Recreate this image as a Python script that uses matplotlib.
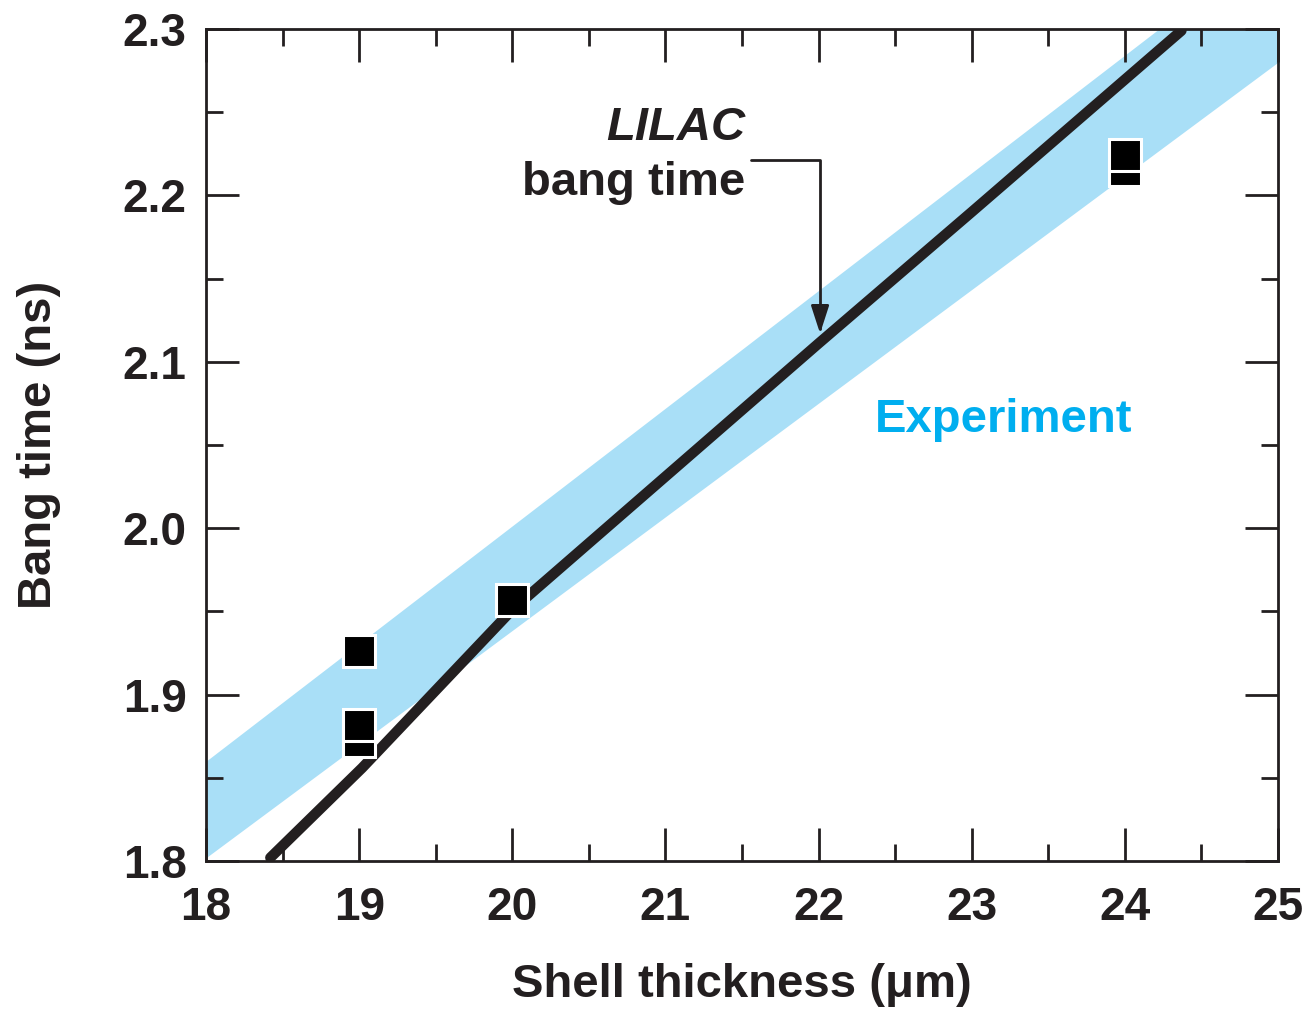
import numpy as np
import matplotlib
matplotlib.use('Agg')
import matplotlib.pyplot as plt
from matplotlib.ticker import MultipleLocator

plt.rcParams['font.family'] = ['Liberation Sans', 'DejaVu Sans']
plt.rcParams['font.weight'] = 'bold'

# measured bang times (ns) vs shell thickness (um)
thick = [19, 19, 19, 20, 24, 24]
bang = [1.872, 1.882, 1.926, 1.957, 2.215, 2.224]

# LILAC simulated bang time curve
sim_x = [18.42, 19.02, 20.0, 21.0, 22.0, 23.0, 24.37]
sim_y = [1.802, 1.856, 1.951, 2.031, 2.111, 2.190, 2.299]

# experimental band (lower / upper edges)
band_x = [18.0, 25.0]
band_lo = [1.802, 2.280]
band_hi = [1.860, 2.355]

fig = plt.figure(figsize=(13.08, 10.10), dpi=100)
ax = fig.add_axes([0.1575, 0.1475, 0.8195, 0.8238])

ax.fill_between(band_x, band_lo, band_hi, color='#a9dff7', lw=0, zorder=1)
ax.plot(sim_x, sim_y, color='#231f20', lw=7.5, solid_capstyle='round', zorder=3)
ax.plot(thick, bang, ls='none', marker='s', ms=23.5, mfc='black', mec='white', mew=2.2, zorder=4)

ax.text(21.52, 2.233, 'LILAC', ha='right', va='baseline', fontsize=34, style='italic',
        fontweight='bold', color='#231f20')
ax.text(21.52, 2.2, 'bang time', ha='right', va='baseline', fontsize=34,
        fontweight='bold', color='#231f20')
ax.annotate('', xy=(22.01, 2.117), xytext=(21.56, 2.221),
            arrowprops=dict(arrowstyle='-|>,head_length=1.7,head_width=0.55', color='#231f20', lw=2,
                            shrinkA=0, shrinkB=0,
                            connectionstyle='angle,angleA=0,angleB=90,rad=0'))
ax.text(23.21, 2.065, 'Experiment', ha='center', va='center', fontsize=34,
        fontweight='bold', color='#00aeef')

ax.set_xlim(18, 25)
ax.set_ylim(1.8, 2.3)
ax.xaxis.set_major_locator(MultipleLocator(1))
ax.xaxis.set_minor_locator(MultipleLocator(0.5))
ax.yaxis.set_major_locator(MultipleLocator(0.1))
ax.yaxis.set_minor_locator(MultipleLocator(0.05))
ax.tick_params(which='both', direction='in', top=True, right=True, width=2, color='#231f20',
               labelsize=33, labelcolor='#231f20')
ax.tick_params(axis='x', pad=18)
ax.tick_params(axis='y', pad=14)
ax.tick_params(which='major', length=24)
ax.tick_params(which='minor', length=12)
for s in ax.spines.values():
    s.set_linewidth(2)
    s.set_color('#231f20')

ax.set_xlabel('Shell thickness (\u03bcm)', fontsize=34, fontweight='bold', color='#231f20')
ax.set_ylabel('Bang time (ns)', fontsize=34, fontweight='bold', color='#231f20')
ax.xaxis.set_label_coords(0.5, -0.149)
ax.yaxis.set_label_coords(-0.156, 0.5)
ax.xaxis.label.set_va('center')
ax.yaxis.label.set_va('center')

fig.savefig('out.png')
